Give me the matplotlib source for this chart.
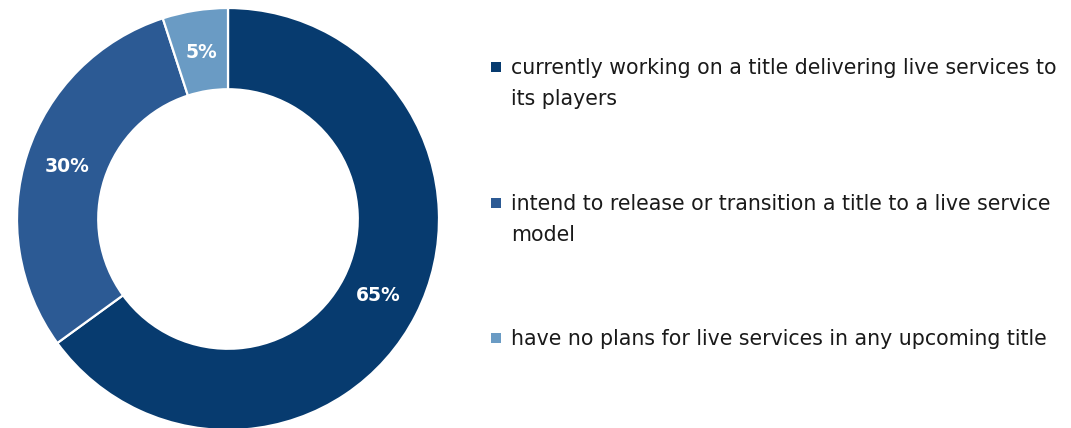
import matplotlib
matplotlib.use("Agg")
import matplotlib.pyplot as plt
from matplotlib.patches import Rectangle

categories = [
    "currently working on a title delivering live services to\nits players",
    "intend to release or transition a title to a live service\nmodel",
    "have no plans for live services in any upcoming title",
]
values = [65, 30, 5]
pct_labels = ["65%", "30%", "5%"]
colors = ["#073B6F", "#2C5A94", "#6A9BC4"]

plt.rcParams['font.family'] = ['DejaVu Sans']

W, H = 1071, 428
fig = plt.figure(figsize=(W / 100, H / 100), dpi=100)
fig.patch.set_facecolor("white")

cx, cy, R = 228, 209, 211
ax = fig.add_axes([(cx - R) / W, (cy - R) / H, 2 * R / W, 2 * R / H])
wedges, texts = ax.pie(values, colors=colors, startangle=90, counterclock=False,
                       radius=1.0, wedgeprops=dict(width=0.385, edgecolor="white", linewidth=1.6),
                       labels=pct_labels, labeldistance=0.80,
                       textprops=dict(color="white", fontsize=13.5, fontweight="bold",
                                      ha="center", va="center"))
ax.set_xlim(-1, 1)
ax.set_ylim(-1, 1)
ax.set_aspect("equal")
ax.axis("off")

# legend
sq = 10
text_x = 511
sq_x = 491
entry_centers = [67, 203, 338]
for cat, col, yc in zip(categories, colors, entry_centers):
    fig.patches.append(Rectangle((sq_x / W, (H - yc - sq / 2) / H), sq / W, sq / H,
                                 transform=fig.transFigure, facecolor=col, edgecolor="none"))
    fig.text(text_x / W, (H - yc + 9) / H, cat, ha="left", va="top",
             fontsize=14.8, color="#1a1a1a", linespacing=1.71,
             transform=fig.transFigure)

fig.savefig("out.png", dpi=100, facecolor="white")
